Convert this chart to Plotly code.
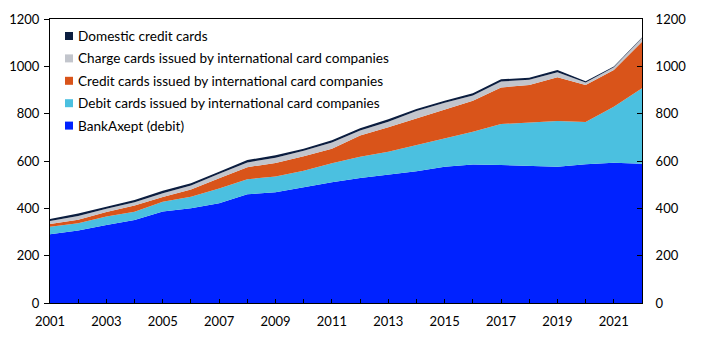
import plotly.graph_objects as go

# Card payments by card type, billion NOK
years = list(range(2001, 2023))

bankaxept = [291, 306, 330, 351, 387, 400, 421, 459, 468, 490, 510,
             528, 541, 557, 576, 585, 583, 580, 576, 586, 593, 588]
debit_intl = [31, 31, 35, 35, 41, 49, 63, 64, 66, 69, 80,
              90, 98, 110, 120, 139, 173, 182, 193, 179, 236, 319]
credit_intl = [12, 15, 20, 26, 20, 31, 43, 51, 58, 61, 62,
               90, 104, 113, 120, 131, 155, 159, 185, 156, 155, 197]
charge_intl = [12, 16, 13, 14, 16, 17, 19, 20, 22, 23, 26,
               21, 23, 31, 30, 22, 25, 22, 21, 11, 12, 16]
domestic_credit = [9, 10, 9, 9, 10, 9, 9, 10, 10, 9, 10,
                   9, 10, 9, 9, 9, 9, 9, 9, 5, 3, 2]

series = [
    ("BankAxept (debit)", bankaxept, "#0022FF"),
    ("Debit cards issued by international card companies", debit_intl, "#4BC0E0"),
    ("Credit cards issued by international card companies", credit_intl, "#D9541A"),
    ("Charge cards issued by international card companies", charge_intl, "#C2C5CC"),
    ("Domestic credit cards", domestic_credit, "#0B1D3F"),
]

y_ticks = [0, 200, 400, 600, 800, 1000, 1200]
x_ticks = list(range(2001, 2022, 2))

FONT = "Lato"
W, H = 722, 337
ML, MR, MT, MB = 50, 80, 19, 34
PW, PH = W - ML - MR, H - MT - MB


def px_to_paper(px, py):
    return (px - ML) / PW, (H - MB - py) / PH


fig = go.Figure()
for name, vals, color in series:
    fig.add_trace(go.Scatter(
        x=years, y=vals, name=name, mode="lines",
        stackgroup="cards", showlegend=False,
        line=dict(width=0, color=color), fillcolor=color,
    ))

# invisible trace so the right-hand axis is drawn
fig.add_trace(go.Scatter(x=[years[0]], y=[0], yaxis="y2", mode="markers",
                         marker=dict(opacity=0), showlegend=False, hoverinfo="skip"))

# legend: square swatch + label, top entry first
shapes, annotations = [], []
row_top, row_step = 36, 22.4
for i, (name, _, color) in enumerate(reversed(series)):
    cy = row_top + i * row_step
    x0, y0 = px_to_paper(65, cy + 4)
    x1, y1 = px_to_paper(73, cy - 4)
    shapes.append(dict(type="rect", xref="paper", yref="paper",
                       x0=x0, x1=x1, y0=y0, y1=y1,
                       fillcolor=color, line=dict(width=0)))
    tx, ty = px_to_paper(76, cy)
    annotations.append(dict(text=name, xref="paper", yref="paper", x=tx, y=ty,
                            xanchor="left", yanchor="middle", showarrow=False,
                            font=dict(family=FONT, size=13.6, color="black")))

fig.update_layout(
    width=W, height=H,
    margin=dict(l=ML, r=MR, t=MT, b=MB, autoexpand=False),
    paper_bgcolor="white", plot_bgcolor="white",
    font=dict(family=FONT, size=13, color="black"),
    showlegend=False,
    shapes=shapes, annotations=annotations,
    xaxis=dict(
        range=[2001, 2022], tickvals=x_ticks, ticktext=[str(t) for t in x_ticks],
        ticks="inside", ticklen=4, tickcolor="black",
        minor=dict(ticks="inside", dtick=1, tick0=2001, ticklen=4, tickcolor="black"),
        showline=True, linecolor="black", linewidth=1, mirror=True,
        showgrid=False, zeroline=False, ticklabelstandoff=6, automargin=False,
    ),
    yaxis=dict(
        range=[0, 1200], tickvals=y_ticks, ticks="outside", ticklen=5,
        tickcolor="black", showline=True, linecolor="black", linewidth=1,
        showgrid=False, zeroline=False, ticklabelstandoff=2, automargin=False,
    ),
    yaxis2=dict(
        range=[0, 1200], tickvals=y_ticks, overlaying="y", side="right",
        ticks="inside", ticklen=5, tickcolor="black", showline=True,
        linecolor="black", linewidth=1, showgrid=False, zeroline=False,
        ticklabelstandoff=10, automargin=False,
    ),
)

fig.write_html("out.html")
